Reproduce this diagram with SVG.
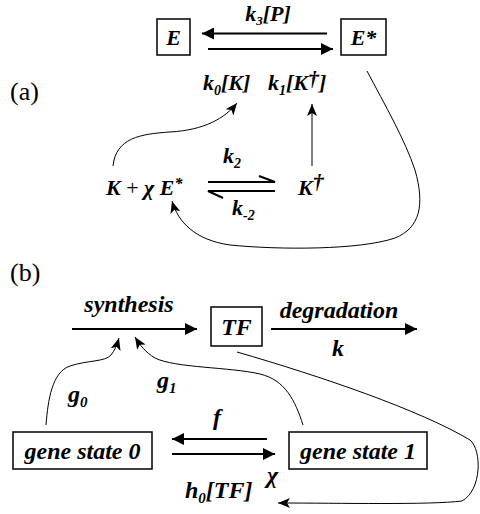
<svg xmlns="http://www.w3.org/2000/svg" width="480" height="514" viewBox="0 0 480 514" font-family="'Liberation Serif', 'DejaVu Serif', 'Times New Roman', serif">
<defs>
<style>
text{font-family:"Liberation Serif","DejaVu Serif","Times New Roman",serif;fill:#000}
.t{font-weight:bold;font-style:italic;font-size:22px}
.b{font-weight:bold;font-style:italic;font-size:24px}
.lab{font-size:26px}
.box{fill:#fff;stroke:#000;stroke-width:1.5}
.thick{stroke:#000;stroke-width:2;fill:none}
.thin{stroke:#000;stroke-width:1;fill:none}
</style>
<marker id="ah" viewBox="0 0 10 10" refX="10" refY="5" markerWidth="6" markerHeight="6" orient="auto" markerUnits="strokeWidth">
<path d="M0,0 L10,5 L0,10 Z" fill="#000"/>
</marker>
<marker id="sh" viewBox="0 0 12 10" refX="12" refY="5" markerWidth="12" markerHeight="10" orient="auto" markerUnits="strokeWidth">
<path d="M0,0 L12,5 L0,10 L3,5 Z" fill="#000"/>
</marker>
</defs>
<text class="lab" x="10" y="100">(a)</text>
<text class="lab" x="10" y="281">(b)</text>
<g id="E"><rect class="box" x="157" y="19" width="33" height="36"/><text class="t" x="173.5" y="45" text-anchor="middle">E</text></g>
<g id="Estar"><rect class="box" x="341" y="19" width="45" height="36"/><text class="t" x="363.5" y="45" text-anchor="middle">E*</text></g>
<g id="K_chiE"><text class="t" x="106" y="195">K<tspan font-weight="normal" font-style="normal"> + </tspan>χ E<tspan dy="-6" font-size="16">*</tspan></text></g>
<g id="Kdag"><text class="t" x="298" y="195">K<tspan dy="-6">†</tspan></text></g>
<g id="TF"><rect class="box" x="211" y="307" width="51" height="39"/><text class="b" x="236.5" y="335" text-anchor="middle">TF</text></g>
<g id="gene0"><rect class="box" x="13" y="432" width="139" height="37"/><text class="b" x="82.5" y="459" text-anchor="middle">gene state 0</text></g>
<g id="gene1"><rect class="box" x="289" y="432" width="138" height="37"/><text class="b" x="358" y="459" text-anchor="middle">gene state 1</text></g>
<g id="connectors">
<line class="thick" x1="327" y1="33.5" x2="202" y2="33.5" marker-end="url(#ah)"/>
<line class="thick" x1="208" y1="49" x2="333" y2="49" marker-end="url(#ah)"/>
<line class="thin" x1="312" y1="166" x2="312" y2="104" marker-end="url(#sh)"/>
<path class="thin" d="M113,166 C116,138 140,134 170,132 C205,130 225,118 237,103" marker-end="url(#sh)"/>
<path class="thick" d="M208,182 L275,182 L259,176"/>
<path class="thick" d="M275,191 L208,191 L223,198"/>
<path class="thin" d="M367,71 C385,105 405,140 415,170 C425,205 420,228 395,238 C360,250 280,250 230,245 C195,240 178,222 172,201" marker-end="url(#sh)"/>
<line class="thick" x1="72" y1="329" x2="197" y2="329" marker-end="url(#ah)"/>
<line class="thick" x1="271" y1="329" x2="417" y2="329" marker-end="url(#ah)"/>
<path class="thin" d="M46,425 C48,400 52,372 70,366 C88,360 105,362 111,355 C115,350 117,345 119,338" marker-end="url(#sh)"/>
<path class="thin" d="M303,425 C295,400 285,380 260,374 C230,367 175,368 155,358 C145,352 140,345 135,337" marker-end="url(#sh)"/>
<path class="thin" d="M237,352 C320,376 420,410 470,440 C482,450 482,490 462,501 C430,505 340,503 278,503" marker-end="url(#sh)"/>
<line class="thick" x1="267" y1="439" x2="172" y2="439" marker-end="url(#ah)"/>
<line class="thick" x1="172" y1="454" x2="275" y2="454" marker-end="url(#ah)"/>
</g>
<g id="labels">
<text class="t" x="268" y="21" font-size="20" text-anchor="middle">k<tspan font-size="13" dy="4">3</tspan><tspan dy="-4">[P]</tspan></text>
<text class="t" x="203" y="90">k<tspan font-size="14" dy="5">0</tspan><tspan dy="-5">[K]</tspan></text>
<text class="t" x="268" y="90">k<tspan font-size="14" dy="5">1</tspan><tspan dy="-5">[K</tspan><tspan dy="-4">†</tspan><tspan dy="4">]</tspan></text>
<text class="t" x="223" y="163">k<tspan font-size="14" dy="5">2</tspan></text>
<text class="t" x="232" y="215">k<tspan font-size="14" dy="5">-2</tspan></text>
<text class="b" x="129" y="312" text-anchor="middle">synthesis</text>
<text class="b" x="339" y="318" text-anchor="middle">degradation</text>
<text class="b" x="332" y="356">k</text>
<text class="b" x="68" y="402">g<tspan font-size="15" dy="5">0</tspan></text>
<text class="b" x="157" y="388">g<tspan font-size="15" dy="5">1</tspan></text>
<text class="b" x="213" y="425">f</text>
<text class="b" x="185" y="498">h<tspan font-size="15" dy="5">0</tspan><tspan dy="-5">[TF]</tspan></text>
<text class="b" x="267" y="483">χ</text>
</g>
</svg>
